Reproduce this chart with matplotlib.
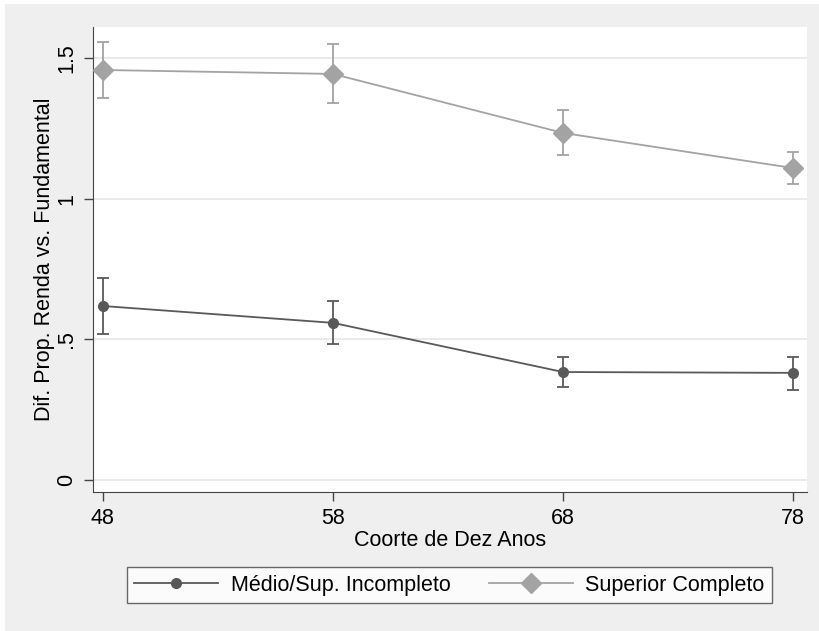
import matplotlib.pyplot as plt
from matplotlib.lines import Line2D
from matplotlib.patches import Rectangle
import numpy as np

plt.rcParams['font.family'] = ['Liberation Sans', 'DejaVu Sans']

coorte = [48, 58, 68, 78]
medio = [0.619, 0.559, 0.384, 0.381]
medio_lo = [0.520, 0.484, 0.331, 0.320]
medio_hi = [0.719, 0.637, 0.438, 0.438]
superior = [1.459, 1.445, 1.235, 1.110]
sup_lo = [1.359, 1.342, 1.157, 1.053]
sup_hi = [1.559, 1.552, 1.317, 1.167]

yticks = [0, 0.5, 1, 1.5]
ylabels = ['0', '.5', '1', '1.5']

c_med = '#595959'
c_sup = '#a3a3a3'
fs = 15.5

fig = plt.figure(figsize=(8.2, 6.31), dpi=100, facecolor='#efefef')
# thin white margin on top and left, as in the original export
fig.patches.append(Rectangle((0, 0), 5 / 820, 1, transform=fig.transFigure,
                             facecolor='white', edgecolor='none', zorder=-10))
fig.patches.append(Rectangle((0, 1 - 4 / 631), 1, 4 / 631, transform=fig.transFigure,
                             facecolor='white', edgecolor='none', zorder=-10))
ax = fig.add_axes([0.1134, 0.2203, 0.8706, 0.7369])
ax.set_facecolor('white')

med = np.array(medio)
sup = np.array(superior)
ax.errorbar(coorte, med, yerr=[med - np.array(medio_lo), np.array(medio_hi) - med],
            color=c_med, marker='o', markersize=7, lw=1.3, capsize=4.5, elinewidth=1.3,
            capthick=1.3, zorder=3)
ax.errorbar(coorte, sup, yerr=[sup - np.array(sup_lo), np.array(sup_hi) - sup],
            color=c_sup, marker='D', markersize=10, lw=1.3, capsize=4.5, elinewidth=1.3,
            capthick=1.3, zorder=3)

ax.set_xlim(47.57, 78.6)
ax.set_ylim(-0.043, 1.612)
ax.set_xticks(coorte)
ax.set_yticks(yticks)
ax.set_yticklabels(ylabels, rotation=90, va='center')
ax.tick_params(axis='both', labelsize=fs, length=6.5, color='#444444', width=1)
ax.tick_params(axis='y', pad=5)
ax.tick_params(axis='x', pad=5)
ax.grid(axis='y', color='#e8e8e8', lw=1.3)
ax.set_axisbelow(True)
for s in ['top', 'right']:
    ax.spines[s].set_visible(False)
for s in ['left', 'bottom']:
    ax.spines[s].set_color('#444444')

ax.set_xlabel('Coorte de Dez Anos', fontsize=fs, labelpad=1)
ax.set_ylabel('Dif. Prop. Renda vs. Fundamental', fontsize=fs, labelpad=1)

handles = [Line2D([], [], color=c_med, marker='o', markersize=7, lw=1.3),
           Line2D([], [], color=c_sup, marker='D', markersize=10, lw=1.3)]
labels = ['Médio/Sup. Incompleto', 'Superior Completo']
leg = fig.legend(handles, labels, loc='center', bbox_to_anchor=(449.5 / 820, 1 - 585 / 631),
                 ncol=2, fontsize=fs, frameon=True, fancybox=False, edgecolor='#444444',
                 handlelength=3.9, handletextpad=0.6, columnspacing=1.75, borderpad=0.35,
                 borderaxespad=0)
leg.get_frame().set_linewidth(1)

fig.savefig('out.png', dpi=100, facecolor=fig.get_facecolor())
